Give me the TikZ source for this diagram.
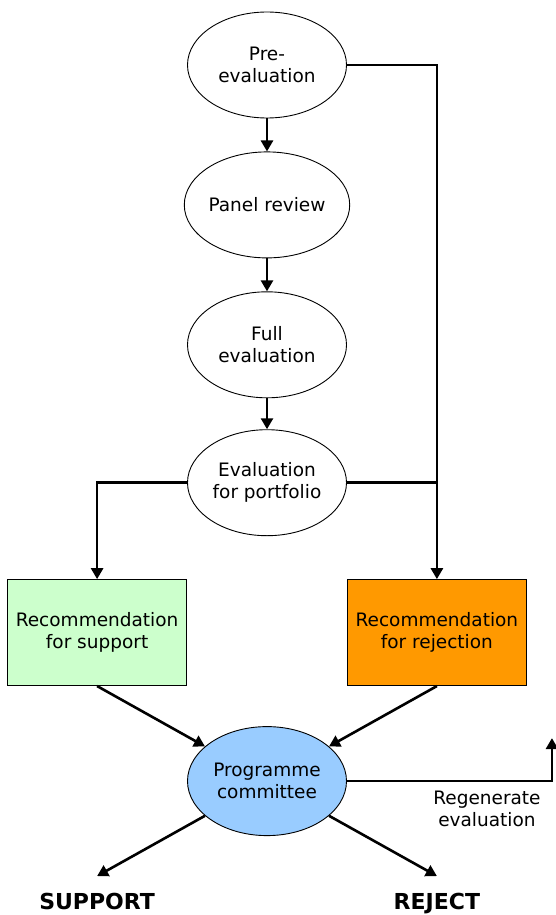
\documentclass[tikz,border=0pt]{standalone}
\usepackage{fontspec}
\setmainfont{DejaVu Sans}
\usepackage{xcolor}
\usetikzlibrary{shapes,arrows.meta,positioning,calc}
\definecolor{supgreen}{HTML}{CCFFCC}
\definecolor{rejorange}{HTML}{FF9900}
\definecolor{comblue}{HTML}{99CCFF}

\begin{document}
\begin{tikzpicture}[
  x=1pt, y=-1pt,
  node distance=33pt,
  every node/.style={font=\fontsize{18.5}{22}\selectfont},
  stage/.style={ellipse, draw, line width=0.9pt, minimum width=159pt, minimum height=106pt, align=center, inner sep=0pt},
  recbox/.style={rectangle, draw, line width=0.9pt, minimum width=179pt, minimum height=106pt, align=center, inner sep=0pt},
  outcome/.style={font=\fontsize{22}{26}\selectfont\bfseries, text height=16pt, text depth=0pt, inner ysep=2pt},
  note/.style={align=center, inner sep=0pt},
  arrow/.style={-{Triangle[length=11pt,width=12pt]}, line width=2.6pt},
  link/.style={line width=2.6pt}
]
  \useasboundingbox (0,0) rectangle (556,915);

  \node[stage] (pre) at (267,65) {Pre-\\evaluation};
  \node[stage, below=of pre] (panel) {Panel review};
  \node[stage, below=of panel] (full) {Full\\evaluation};
  \node[stage, below=31pt of full] (evalp) {Evaluation\\for portfolio};

  % corners of the box round the last ellipse
  \coordinate (evsw) at (evalp.west |- evalp.south);
  \coordinate (evse) at (evalp.east |- evalp.south);
  \node[recbox, fill=supgreen, below left=43pt and 0pt of evsw] (recsup) {Recommendation\\for support};
  \node[recbox, fill=rejorange, below right=43pt and 0pt of evse] (recrej) {Recommendation\\for rejection};

  \node[stage, fill=comblue, minimum height=109pt, below=190pt of evalp] (comm) {Programme\\committee};

  \node[outcome, below=205pt of recsup] (support) {SUPPORT};
  \node[outcome, below=205pt of recrej] (reject) {REJECT};
  \coordinate[above=15pt of support.north] (supin);
  \coordinate[above=15pt of reject.north] (rejin);

  \coordinate (regen) at ([xshift=205pt,yshift=43pt]comm.east);
  \node[note] (regtxt) at ([xshift=140pt,yshift=-28pt]comm.east) {Regenerate\\evaluation};

  \draw[arrow] (pre) -- (panel);
  \draw[arrow] (panel) -- (full);
  \draw[arrow] (full) -- (evalp);
  \draw[arrow] (pre.east) -| (recrej.north);
  \draw[link] (evalp.east) -- (evalp.east -| recrej.north);
  \draw[arrow] (evalp.west) -| (recsup.north);

  \draw[arrow] (recsup.south) -- (comm);
  \draw[arrow] (recrej.south) -- (comm);
  \draw[arrow] (comm.east) -| (regen);
  \draw[arrow] (comm) -- (supin);
  \draw[arrow] (comm) -- (rejin);
\end{tikzpicture}
\end{document}
